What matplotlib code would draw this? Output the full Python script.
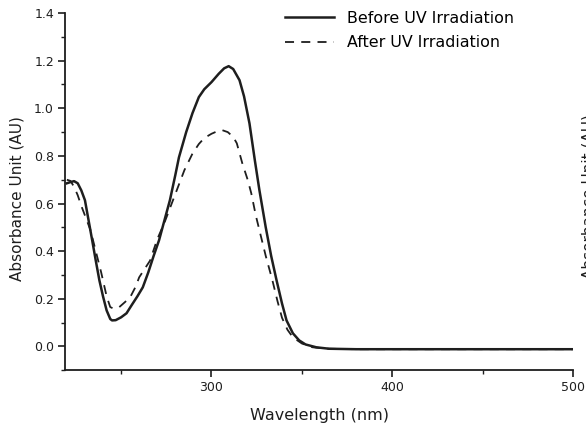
import matplotlib
matplotlib.use("Agg")
import matplotlib.pyplot as plt
from matplotlib.ticker import MultipleLocator

# Data
wl_before = [220, 222, 224, 226, 228, 230, 232, 234, 236, 238, 240, 242, 244, 245, 247,
             250, 253, 256, 259, 262, 265, 268, 271, 274, 277, 280, 282, 286, 289.5, 293,
             296, 300, 304, 307, 309.5, 312, 315.5, 318, 321, 324, 326.5, 330, 333, 336,
             339, 341.5, 345, 348.5, 352, 358, 365, 380, 400, 420, 440, 460, 480, 500]
abs_before = [0.685, 0.690, 0.694, 0.685, 0.655, 0.614, 0.53, 0.446, 0.36, 0.277, 0.21, 0.151,
              0.115, 0.109, 0.110, 0.122, 0.139, 0.175, 0.21, 0.248, 0.31, 0.38, 0.446, 0.53,
              0.614, 0.72, 0.794, 0.90, 0.98, 1.047, 1.08, 1.11, 1.145, 1.168, 1.177, 1.165,
              1.118, 1.05, 0.937, 0.78, 0.656, 0.50, 0.38, 0.277, 0.18, 0.109, 0.055, 0.025,
              0.008, -0.004, -0.01, -0.012, -0.012, -0.012, -0.012, -0.012, -0.012, -0.012]

wl_after = [220, 222, 224, 226, 228, 230, 233, 236, 239, 242, 244, 246, 249, 252, 255, 258,
            260, 263, 266, 270, 274, 277, 281, 285, 289.5, 293, 296, 300, 303, 306, 309, 312,
            314, 317, 320, 322, 324.5, 326.5, 330, 333.7, 336.5, 339, 342, 345, 350, 356,
            365, 380, 400, 420, 440, 460, 480, 500]
abs_after = [0.70, 0.695, 0.67, 0.635, 0.59, 0.55, 0.49, 0.40, 0.31, 0.21, 0.165, 0.158, 0.165,
             0.185, 0.206, 0.25, 0.29, 0.325, 0.36, 0.45, 0.52, 0.58, 0.66, 0.74, 0.81, 0.85,
             0.875, 0.893, 0.903, 0.908, 0.90, 0.88, 0.853, 0.77, 0.70, 0.643, 0.55, 0.488,
             0.38, 0.277, 0.19, 0.12, 0.07, 0.038, 0.012, -0.004, -0.01, -0.012, -0.012,
             -0.012, -0.012, -0.012, -0.012, -0.012]

x_ticks = [300, 400, 500]
y_ticks = [0.0, 0.2, 0.4, 0.6, 0.8, 1.0, 1.2, 1.4]
label_before = "Before UV Irradiation"
label_after = "After UV Irradiation"

fig = plt.figure(figsize=(5.86, 4.36), dpi=100)
ax = fig.add_axes([0.111, 0.151, 0.867, 0.819])

ink = "#1e1e1e"
ax.plot(wl_before, abs_before, color=ink, lw=1.8, label=label_before)
ax.plot(wl_after, abs_after, color=ink, lw=1.3, dashes=(5, 4), label=label_after)

ax.set_xlim(219, 500)
ax.set_ylim(-0.1, 1.4)
ax.set_xticks(x_ticks)
ax.set_yticks(y_ticks)
ax.set_yticklabels([f"{v:.1f}" for v in y_ticks])
ax.xaxis.set_minor_locator(MultipleLocator(50))
ax.yaxis.set_minor_locator(MultipleLocator(0.1))

for s in ["top", "right"]:
    ax.spines[s].set_visible(False)
for s in ["left", "bottom"]:
    ax.spines[s].set_linewidth(1.3)
    ax.spines[s].set_color(ink)

ax.tick_params(which="major", direction="out", length=5, width=1.2, colors=ink,
               labelsize=9, pad=3)
ax.tick_params(which="minor", direction="out", length=3, width=1.0, colors=ink)

ax.set_xlabel("Wavelength (nm)", fontsize=11.5, color=ink, labelpad=10)
ax.set_ylabel("Absorbance Unit (AU)", fontsize=11, color=ink)
ax.yaxis.set_label_coords(-0.079, 0.48)

leg = ax.legend(loc="upper left", bbox_to_anchor=(0.486, 0.975),
                bbox_transform=fig.transFigure, frameon=False, borderpad=0,
                borderaxespad=0, fontsize=11.4, handlelength=3.1,
                handletextpad=0.8, labelspacing=0.6)

# clipped label at right edge of reference
fig.text(0.9925, 0.55, "Absorbance Unit (AU)", rotation=90, va="center", ha="left",
         fontsize=11, color=ink)

fig.savefig("out.png", dpi=100, facecolor="white")
